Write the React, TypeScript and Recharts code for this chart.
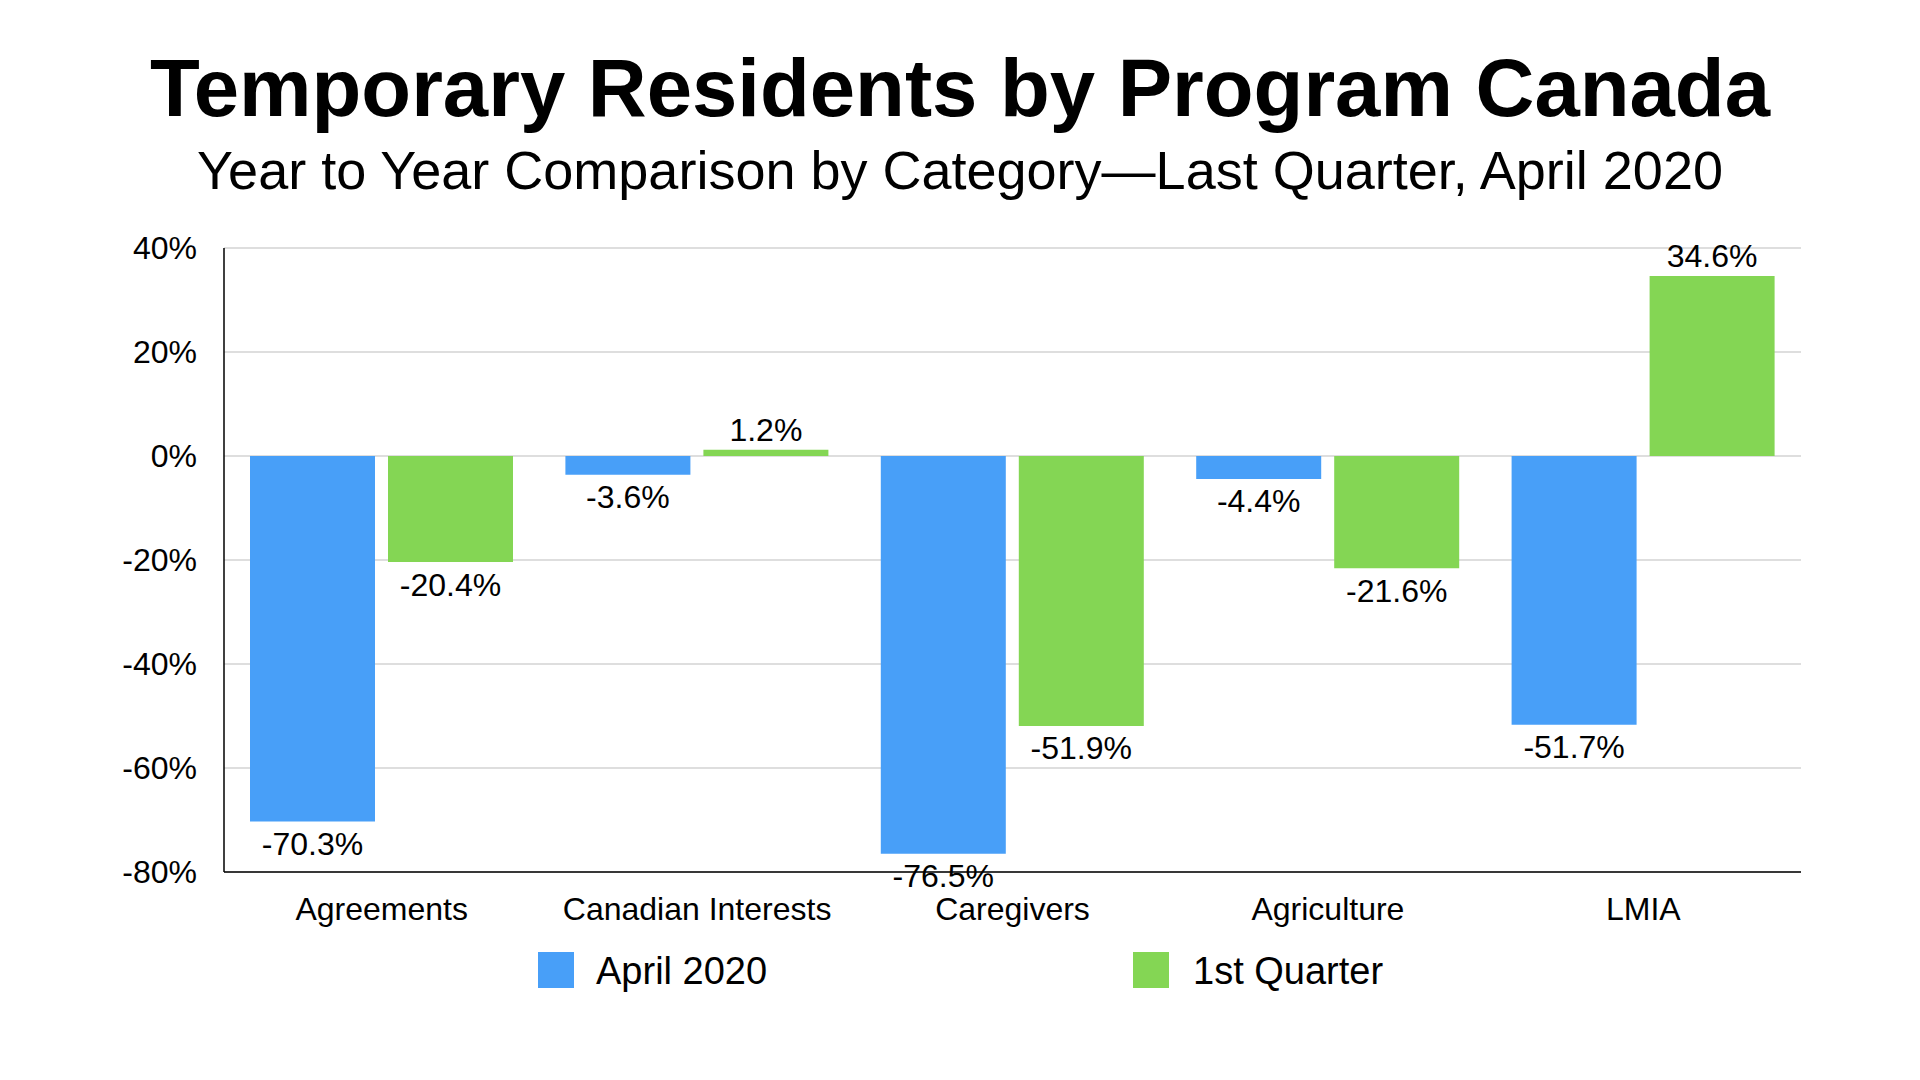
import React from "react";
import { BarChart, Bar, XAxis, YAxis, CartesianGrid, LabelList } from "recharts";

const categories = ["Agreements", "Canadian Interests", "Caregivers", "Agriculture", "LMIA"];
const april2020 = [-70.3, -3.6, -76.5, -4.4, -51.7];
const firstQuarter = [-20.4, 1.2, -51.9, -21.6, 34.6];
const yTicks = [-80, -60, -40, -20, 0, 20, 40];
const seriesNames = ["April 2020", "1st Quarter"];
const seriesColors = ["#489FF8", "#84D654"];

const data = categories.map((c, i) => ({
  name: c,
  april: april2020[i],
  quarter: firstQuarter[i],
}));

const FONT = "'Liberation Sans', Arial, Helvetica, sans-serif";

const ValueLabel = (props: any) => {
  const { x, y, width, height, value } = props;
  const top = Math.min(y, y + height);
  const bottom = Math.max(y, y + height);
  const cx = x + width / 2;
  const by = value >= 0 ? top - 9 : bottom + 33.5;
  return (
    <text x={cx} y={by} textAnchor="middle" fontSize={32} fill="#000" fontFamily={FONT}>
      {`${value.toFixed(1)}%`}
    </text>
  );
};

export default function App() {
  return (
    <div style={{ position: "absolute", left: 0, top: 0, width: 1920, height: 1080, background: "#fff", fontFamily: FONT }}>
      <BarChart
        width={1920}
        height={1080}
        data={data}
        margin={{ top: 248, right: 119, left: 0, bottom: 148 }}
        barSize={125}
        barGap={13}
      >
        <CartesianGrid horizontal={true} vertical={false} stroke="#bdbdbd" strokeWidth={1.2} />
        <XAxis
          dataKey="name"
          height={60}
          tickLine={false}
          tickSize={0}
          tickMargin={25}
          axisLine={{ stroke: "#000", strokeWidth: 1.5 }}
          tick={{ fontSize: 32, fill: "#000", fontFamily: FONT }}
          interval={0}
        />
        <YAxis
          width={224}
          domain={[-80, 40]}
          ticks={yTicks}
          tickFormatter={(v: number) => `${v}%`}
          tickLine={false}
          tickSize={0}
          tickMargin={27}
          axisLine={{ stroke: "#000", strokeWidth: 1.5 }}
          tick={{ fontSize: 32, fill: "#000", fontFamily: FONT }}
          interval={0}
        />
        <Bar dataKey="april" name={seriesNames[0]} fill={seriesColors[0]} isAnimationActive={false}>
          <LabelList dataKey="april" content={ValueLabel} />
        </Bar>
        <Bar dataKey="quarter" name={seriesNames[1]} fill={seriesColors[1]} isAnimationActive={false}>
          <LabelList dataKey="quarter" content={ValueLabel} />
        </Bar>
      </BarChart>
      <svg width={1920} height={1080} style={{ position: "absolute", left: 0, top: 0, pointerEvents: "none" }}>
        <text x={960} y={116} textAnchor="middle" fontSize={81.5} fontWeight="bold" fill="#000" fontFamily={FONT}>
          Temporary Residents by Program Canada
        </text>
        <text x={960} y={189} textAnchor="middle" fontSize={54} fill="#000" fontFamily={FONT}>
          Year to Year Comparison by Category—Last Quarter, April 2020
        </text>
        <rect x={538} y={952} width={36} height={36} fill={seriesColors[0]} />
        <text x={596} y={984} fontSize={38} fill="#000" fontFamily={FONT}>{seriesNames[0]}</text>
        <rect x={1133} y={952} width={36} height={36} fill={seriesColors[1]} />
        <text x={1193} y={984} fontSize={38} fill="#000" fontFamily={FONT}>{seriesNames[1]}</text>
      </svg>
    </div>
  );
}
